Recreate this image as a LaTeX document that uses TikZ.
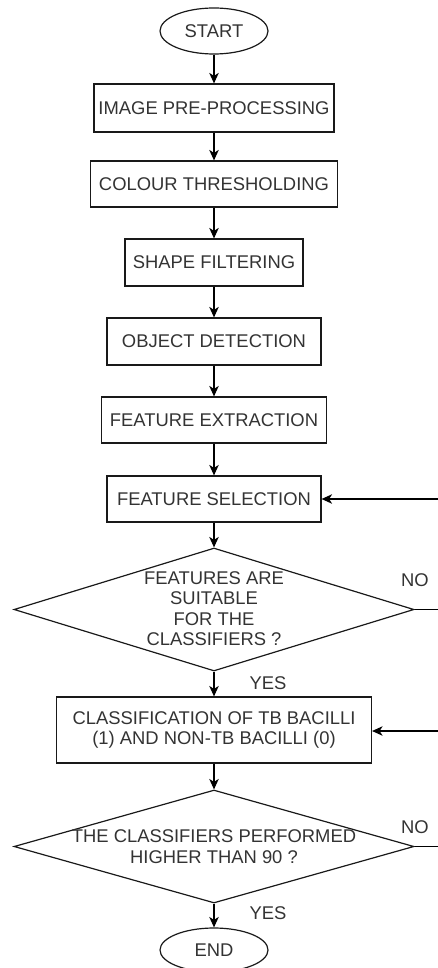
\documentclass[tikz,border=0pt]{standalone}
\usepackage{fontspec}
\setmainfont{Liberation Sans}
\usetikzlibrary{shapes.geometric,arrows.meta}
\begin{document}
\begin{tikzpicture}[x=1pt,y=-1pt,
  every node/.style={font=\fontsize{18.4}{20.5}\selectfont, text=black!80},
  proc/.style={draw=black!90, line width=1.2pt, rectangle, inner sep=0pt, align=center},
  term/.style={draw=black!90, line width=1.2pt, ellipse, inner sep=0pt, minimum width=108pt},
  decis/.style={draw=black!90, line width=1.2pt, diamond, inner sep=0pt},
  lbl/.style={inner sep=0pt, align=center},
  flow/.style={line width=1.2pt, -{Stealth[length=10.5pt,width=9.5pt,inset=3pt]}},
  plain/.style={line width=1.2pt}]
\useasboundingbox (0,0) rectangle (437,968);
\node[term, minimum height=46pt] (start) at (214,31) {START};
\node[proc, minimum width=240pt, minimum height=48pt] (pre) at (214,108) {IMAGE PRE-PROCESSING};
\node[proc, minimum width=247pt, minimum height=46pt] (thr) at (214,184) {COLOUR THRESHOLDING};
\node[proc, minimum width=178pt, minimum height=47pt] (shp) at (214,262.5) {SHAPE FILTERING};
\node[proc, minimum width=214pt, minimum height=47pt] (obj) at (214,341.5) {OBJECT DETECTION};
\node[proc, minimum width=225pt, minimum height=46pt] (ext) at (214,420) {FEATURE EXTRACTION};
\node[proc, minimum width=214pt, minimum height=46pt] (sel) at (214,499) {FEATURE SELECTION};
\node[decis, minimum width=400pt, minimum height=123pt] (d1) at (214,609.5) {};
\node[lbl] (d1t) at (214,608.5) {FEATURES ARE\\SUITABLE\\FOR THE\\CLASSIFIERS ?};
\node[proc, minimum width=315pt, minimum height=66pt] (cls) at (214,730) {CLASSIFICATION OF TB BACILLI\\(1) AND NON-TB BACILLI (0)};
\node[decis, minimum width=400pt, minimum height=113pt] (d2) at (214,846.5) {};
\node[lbl] (d2t) at (214,846.5) {THE CLASSIFIERS PERFORMED\\HIGHER THAN 90 ?};
\node[term, minimum height=44pt] (end) at (214,950) {END};
\node[lbl] (no1) at (415,580) {NO};
\node[lbl] (yes1) at (268,683) {YES};
\node[lbl] (no2) at (415,827) {NO};
\node[lbl] (yes2) at (268,913) {YES};
\coordinate (f1) at (438,499);
\coordinate (e1) at (438,609.5);
\coordinate (f2) at (438,731);
\coordinate (e2) at (438,846.5);
\draw[flow] (start) -- (pre);
\draw[flow] (pre) -- (thr);
\draw[flow] (thr) -- (shp);
\draw[flow] (shp) -- (obj);
\draw[flow] (obj) -- (ext);
\draw[flow] (ext) -- (sel);
\draw[flow] (sel) -- (d1.north);
\draw[flow] (d1.south) -- (cls);
\draw[flow] (cls) -- (d2.north);
\draw[flow] (d2.south) -- (end);
\draw[plain] (d1.east) -- (e1);
\draw[plain] (d2.east) -- (e2);
\draw[flow] (f1) -- (sel.east);
\draw[flow] (f2) -- (cls.east |- f2);
\end{tikzpicture}
\end{document}
